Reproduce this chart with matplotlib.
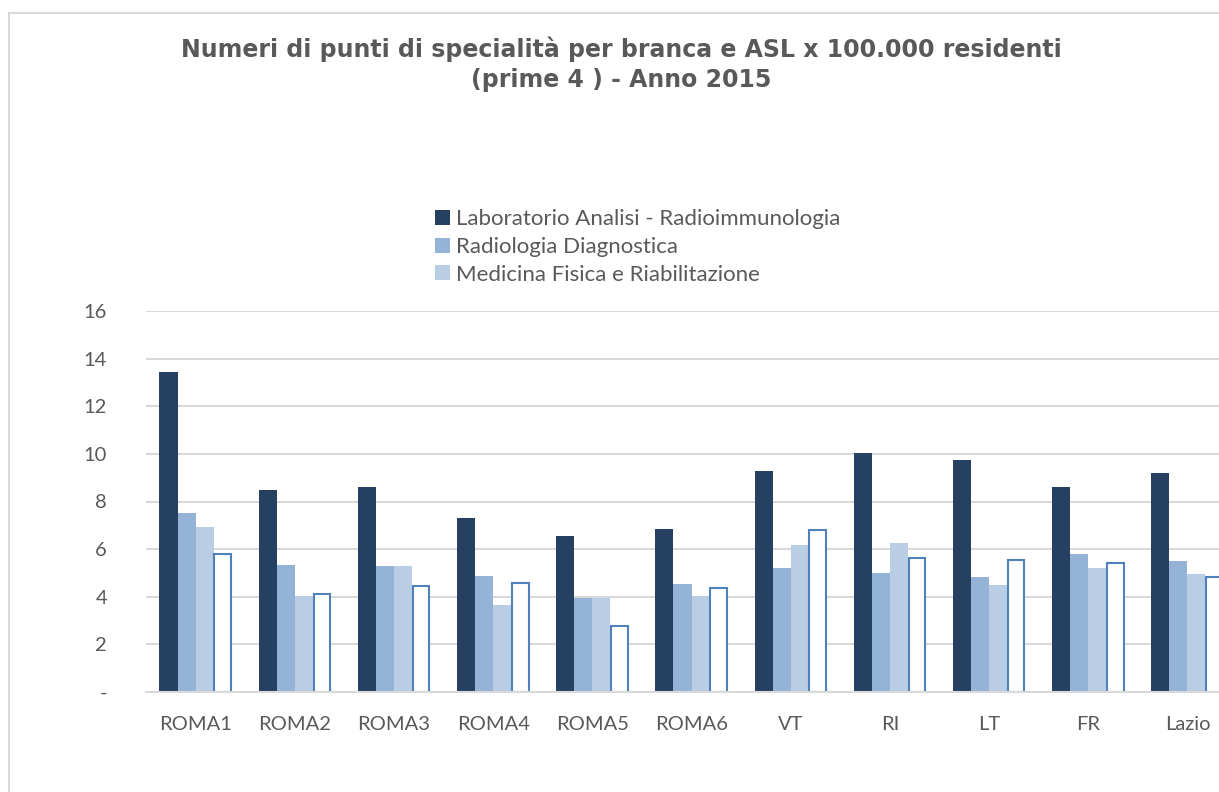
import matplotlib
matplotlib.use('Agg')
import matplotlib.pyplot as plt
import numpy as np
from matplotlib.patches import Rectangle

asl = ['ROMA1', 'ROMA2', 'ROMA3', 'ROMA4', 'ROMA5', 'ROMA6', 'VT', 'RI', 'LT', 'FR', 'Lazio']
laboratorio = [13.45, 8.48, 8.62, 7.31, 6.55, 6.83, 9.28, 10.02, 9.76, 8.62, 9.21]
radiologia = [7.50, 5.32, 5.29, 4.86, 3.96, 4.54, 5.22, 4.98, 4.84, 5.80, 5.49]
medicina = [6.94, 4.03, 5.29, 3.64, 3.96, 4.02, 6.17, 6.26, 4.49, 5.20, 4.96]
quarta = [5.80, 4.12, 4.47, 4.56, 2.77, 4.38, 6.80, 5.64, 5.54, 5.42, 4.82]
serie_labels = ['Laboratorio Analisi - Radioimmunologia', 'Radiologia Diagnostica',
                'Medicina Fisica e Riabilitazione']

grey = '#595959'
plt.rcParams['font.family'] = ['Lato', 'DejaVu Sans']

fig = plt.figure(figsize=(12.19, 7.92), dpi=100)
# chart border (runs off the right and bottom edges)
fig.patches.append(Rectangle((9 / 1219, -0.1), 1.2, (792 - 13) / 792 + 0.1,
                             transform=fig.transFigure, fill=False,
                             edgecolor='#d9d9d9', linewidth=1.5))

ax = fig.add_axes([146 / 1219, 100 / 792, 1091 / 1219, 381 / 792])
x = np.arange(len(asl))
w = 0.182
b1 = ax.bar(x - 1.5 * w, laboratorio, w, color='#264061', label=serie_labels[0])
b2 = ax.bar(x - 0.5 * w, radiologia, w, color='#95b3d7', label=serie_labels[1])
b3 = ax.bar(x + 0.5 * w, medicina, w, color='#b9cde5', label=serie_labels[2])
ax.bar(x + 1.5 * w, quarta, w * 0.92, facecolor='white', edgecolor='#4f81bd', linewidth=1.5)

ax.set_xlim(-0.5, len(asl) - 0.5)
ax.set_ylim(0, 16)
ax.set_yticks(range(0, 17, 2))
ax.set_yticklabels(['-'] + [str(v) for v in range(2, 17, 2)])
ax.set_xticks(x)
ax.set_xticklabels(asl)
ax.tick_params(length=0, labelsize=14.5, colors=grey)
ax.tick_params(axis='x', pad=17)
ax.tick_params(axis='y', pad=28)
ax.grid(axis='y', color='#d9d9d9', linewidth=1.5)
ax.set_axisbelow(True)
for s in ['top', 'right', 'left']:
    ax.spines[s].set_visible(False)
ax.spines['bottom'].set_color('#d9d9d9')
ax.spines['bottom'].set_linewidth(1.5)

fig.text(621 / 1219, 1 - 64 / 792,
         'Numeri di punti di specialità per branca e ASL x 100.000 residenti\n(prime 4 ) - Anno 2015',
         ha='center', va='center', fontsize=17, fontweight='bold', color=grey,
         family='DejaVu Sans', linespacing=1.3)

fig.legend(handles=[b1, b2, b3], loc='upper left', bbox_to_anchor=(424 / 1219, 1 - 198 / 792),
           frameon=False, fontsize=16, handlelength=0.65, handleheight=0.65,
           handletextpad=0.3, labelspacing=0.35, borderpad=0, labelcolor=grey)

fig.savefig('out.png', dpi=100)
